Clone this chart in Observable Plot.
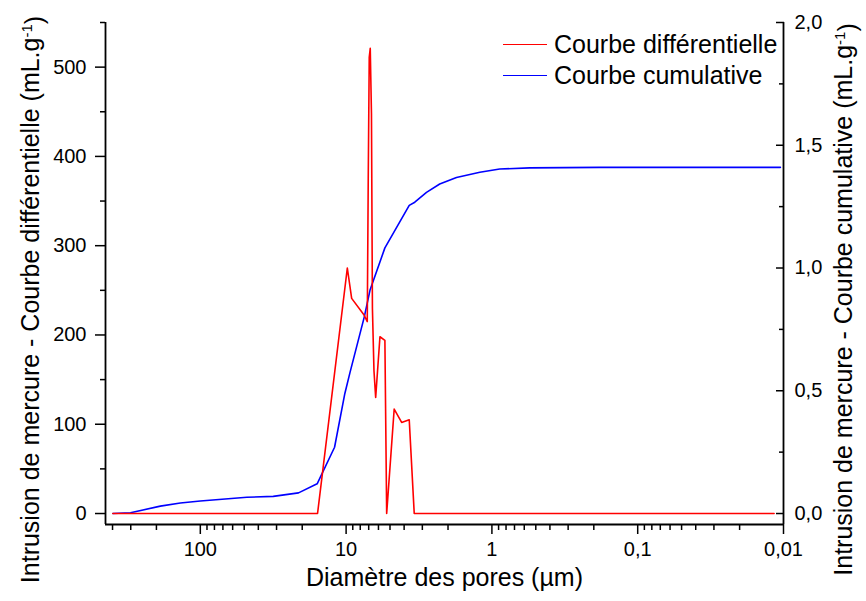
<!DOCTYPE html>
<html>
<head>
<meta charset="utf-8">
<script src="https://cdn.jsdelivr.net/npm/d3@7"></script>
<script src="https://cdn.jsdelivr.net/npm/@observablehq/plot@0.6"></script>
<style>
  body { margin: 0; background: #fff; }
  #chart { position: relative; width: 866px; height: 601px; font-family: "Liberation Sans", Arial, sans-serif; }
  .legend { position: absolute; left: 503px; top: 29px; font-size: 25px; color: #000; }
  .legend .row { display: flex; align-items: center; height: 31px; }
  .legend .sw { width: 44px; height: 0; border-top: 1.6px solid; margin-right: 7px; }
</style>
</head>
<body>
<div id="chart"></div>
<script>
// Courbe différentielle (axe gauche)
const diametreDiff = [398, 15.7, 9.81, 9.16, 7.51, 7.16, 7.05, 6.94, 6.83, 6.70, 6.60, 6.44, 6.27, 5.86, 5.42, 5.27, 4.68, 4.16, 3.69, 3.41, 0.0116];
const differentielle = [0, 0, 275, 241, 222, 215, 375, 511, 521, 448, 230, 160, 130, 198, 194, 0, 117, 102, 105, 0, 0];

// Courbe cumulative (axe droit)
const diametreCumul = [398, 301, 188, 137, 100, 47.9, 31.6, 21.2, 15.8, 12.0, 10.2, 9.40, 7.51, 6.86, 5.42, 3.69, 3.38, 2.81, 2.28, 1.75, 1.21, 0.884, 0.551, 0.183, 0.0105];
const cumulative = [0, 0.003, 0.03, 0.043, 0.051, 0.066, 0.07, 0.084, 0.121, 0.27, 0.489, 0.575, 0.8, 0.909, 1.082, 1.255, 1.268, 1.308, 1.342, 1.369, 1.39, 1.403, 1.408, 1.41, 1.41];

// Axes
const xDomain = [447, 0.01];
const yLeftDomain = [-12.3, 550];
const ratioDroite = 275; // 2,0 (axe droit) ↔ 550 (axe gauche)
const xMajor = [100, 10, 1, 0.1, 0.01];
const xMinorMult = [2, 3, 4, 5, 6, 7, 8, 9];
const xMinorDecades = [100, 10, 1, 0.1, 0.01];
const yLeftMajor = [0, 100, 200, 300, 400, 500];
const yLeftMinor = [50, 150, 250, 350, 450, 550];
const yRightMajor = [0, 0.5, 1.0, 1.5, 2.0];
const yRightMinor = [0.25, 0.75, 1.25, 1.75];

const titreX = "Diamètre des pores (µm)";
const titreGauche = "Intrusion de mercure - Courbe différentielle (mL.g-1)";
const titreDroite = "Intrusion de mercure - Courbe cumulative (mL.g-1)";
const legendes = [["Courbe différentielle", "#ff0000"], ["Courbe cumulative", "#0000ff"]];

const diffData = diametreDiff.map((d, i) => ({d, v: differentielle[i]}));
const cumulData = diametreCumul.map((d, i) => ({d, v: cumulative[i] * ratioDroite}));
const xMinor = xMinorDecades.flatMap(dec => xMinorMult.map(m => +(m * dec).toPrecision(3)))
  .filter(v => v < xDomain[0] && v > xDomain[1] && !xMajor.includes(v));

const fmtComma = d => String(d).replace(".", ",");
const font = '"Liberation Sans", Arial, sans-serif';

const plot = Plot.plot({
  width: 866,
  height: 601,
  marginLeft: 105,
  marginRight: 83,
  marginTop: 22,
  marginBottom: 77,
  style: {fontFamily: font, fontSize: "20px", color: "#000", background: "#fff"},
  x: {type: "log", domain: xDomain},
  y: {domain: yLeftDomain},
  marks: [
    Plot.ruleX([xDomain[0], xDomain[1]], {stroke: "#000", strokeWidth: 1.8}),
    Plot.ruleY([yLeftDomain[0]], {stroke: "#000", strokeWidth: 1.8}),
    Plot.axisX({ticks: xMajor, tickSize: 10, tickPadding: 7, tickFormat: fmtComma, label: null, strokeWidth: 1.5}),
    Plot.axisX({ticks: xMinor, tickSize: 6, tickFormat: () => "", label: null, strokeWidth: 1.5}),
    Plot.axisY({anchor: "left", ticks: yLeftMajor, tickSize: 10, tickPadding: 9, label: null, strokeWidth: 1.5}),
    Plot.axisY({anchor: "left", ticks: yLeftMinor, tickSize: 5, tickFormat: () => "", label: null, strokeWidth: 1.5}),
    Plot.axisY({anchor: "right", ticks: yRightMajor.map(v => v * ratioDroite), tickSize: -8, tickPadding: 19,
      tickFormat: d => (d / ratioDroite).toFixed(1).replace(".", ","), label: null, strokeWidth: 1.5}),
    Plot.axisY({anchor: "right", ticks: yRightMinor.map(v => v * ratioDroite), tickSize: -5, tickFormat: () => "", label: null, strokeWidth: 1.5}),
    Plot.line(cumulData, {x: "d", y: "v", stroke: "#0000ff", strokeWidth: 1.6}),
    Plot.line(diffData, {x: "d", y: "v", stroke: "#ff0000", strokeWidth: 1.6}),
    Plot.text([titreX], {frameAnchor: "bottom", textAnchor: "middle", dy: 61, fontSize: 25}),
    Plot.text([titreGauche], {frameAnchor: "left", textAnchor: "middle", rotate: -90, dx: -75, dy: 26, fontSize: 25}),
    Plot.text([titreDroite], {frameAnchor: "right", textAnchor: "middle", rotate: -90, dx: 60, dy: 26, fontSize: 25})
  ]
});

// exposant "-1"
d3.select(plot).selectAll("text").filter(function() { return this.textContent.endsWith("(mL.g-1)"); })
  .each(function() {
    const t = this.textContent;
    const base = t.slice(0, t.length - "-1)".length);
    const sel = d3.select(this);
    sel.text(null);
    sel.append("tspan").text(base);
    sel.append("tspan").attr("dy", "-0.45em").attr("font-size", "15px").text("-1");
    sel.append("tspan").attr("dy", "0.45em").text(")");
  });

const chart = document.getElementById("chart");
chart.appendChild(plot);
const leg = document.createElement("div");
leg.className = "legend";
for (const [label, color] of legendes) {
  const row = document.createElement("div");
  row.className = "row";
  const sw = document.createElement("div");
  sw.className = "sw";
  sw.style.borderTopColor = color;
  const tx = document.createElement("span");
  tx.textContent = label;
  row.appendChild(sw);
  row.appendChild(tx);
  leg.appendChild(row);
}
chart.appendChild(leg);
</script>
</body>
</html>
